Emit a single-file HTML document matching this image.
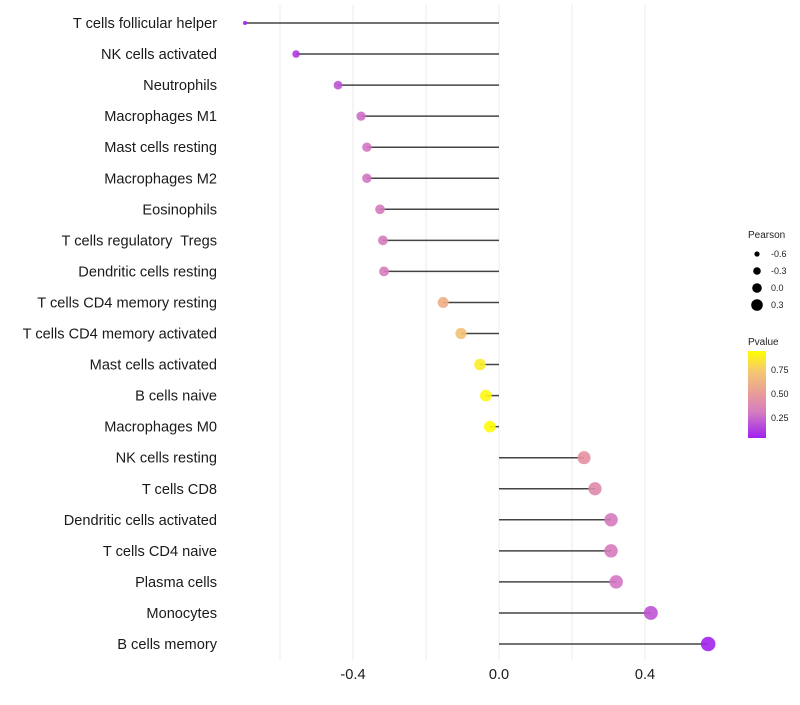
<!DOCTYPE html>
<html><head><meta charset="utf-8"><style>
body{margin:0;background:#fff;font-family:"Liberation Sans",sans-serif}
text{white-space:pre}
</style></head><body>
<svg id="c" width="800" height="700" xmlns="http://www.w3.org/2000/svg">
<defs><linearGradient id="pg" x1="0" y1="1" x2="0" y2="0">
<stop offset="0" stop-color="#a020f0"/><stop offset="0.3" stop-color="#d47ec0"/><stop offset="0.5" stop-color="#e89a9a"/><stop offset="0.77" stop-color="#f5c870"/><stop offset="1" stop-color="#ffff00"/></linearGradient></defs>
<g id="grid"></g><g id="marks"></g><g id="labels"></g>
<g font-size="9" fill="#222">
<text x="748" y="238" font-size="10">Pearson</text>
<circle cx="757" cy="254" r="2.6" fill="#000"/><text x="771" y="257">-0.6</text>
<circle cx="757" cy="271" r="3.8" fill="#000"/><text x="771" y="274">-0.3</text>
<circle cx="757" cy="288" r="4.8" fill="#000"/><text x="771" y="291">0.0</text>
<circle cx="757" cy="305" r="5.8" fill="#000"/><text x="771" y="308">0.3</text>
</g>
<g font-size="9" fill="#222">
<text x="748" y="345" font-size="10">Pvalue</text>
<rect x="748" y="351" width="18" height="87" fill="url(#pg)"/>
<text x="771" y="373">0.75</text><text x="771" y="397">0.50</text><text x="771" y="421">0.25</text>
</g>
</svg>
<script>
const cells=["T cells follicular helper","NK cells activated","Neutrophils","Macrophages M1","Mast cells resting","Macrophages M2","Eosinophils","T cells regulatory  Tregs","Dendritic cells resting","T cells CD4 memory resting","T cells CD4 memory activated","Mast cells activated","B cells naive","Macrophages M0","NK cells resting","T cells CD8","Dendritic cells activated","T cells CD4 naive","Plasma cells","Monocytes","B cells memory"];
const pearson=[-0.696,-0.556,-0.441,-0.378,-0.362,-0.362,-0.326,-0.318,-0.315,-0.153,-0.104,-0.052,-0.036,-0.025,0.233,0.263,0.307,0.307,0.321,0.416,0.573];
const pvalue=[0.04,0.12,0.2,0.28,0.3,0.3,0.33,0.33,0.34,0.62,0.72,0.88,0.92,0.94,0.47,0.42,0.33,0.33,0.3,0.2,0.05];
const ticks=[-0.4,0.0,0.4];
const grids=[-0.6,-0.4,-0.2,0,0.2,0.4];
const ns="http://www.w3.org/2000/svg";
const X=v=>499+v*365, Y=i=>23+i*31.05;
const vmin=Math.min(...pearson), vmax=Math.max(...pearson);
const R=v=>2+5.3*Math.pow((v-vmin)/(vmax-vmin),0.5);
const stops=[[0.04,[160,32,240]],[0.3,[210,118,195]],[0.5,[232,150,155]],[0.75,[245,200,112]],[0.95,[255,255,0]]];
function col(p){p=Math.max(0.04,Math.min(0.95,p));let i=0;while(i<stops.length-2&&p>stops[i+1][0])i++;
 const [p0,a]=stops[i],[p1,b]=stops[i+1];const f=(p-p0)/(p1-p0);
 return `rgb(${a.map((x,k)=>Math.round(x+(b[k]-x)*f)).join(",")})`;}
function mk(tag,at,par){const e=document.createElementNS(ns,tag);for(const k in at)e.setAttribute(k,at[k]);document.getElementById(par).appendChild(e);return e;}
grids.forEach(g=>{const l=mk("line",{x1:X(g),x2:X(g),y1:5,y2:660,stroke:"#ebebeb","stroke-width":1},"grid");

});
cells.forEach((c,i)=>{const y=Y(i);
 const l=mk("line",{x1:X(0),x2:X(pearson[i]),y1:y,y2:y,stroke:"#444","stroke-width":1.5},"marks");
 
 
 const d=mk("circle",{cx:X(pearson[i]),cy:y,r:R(pearson[i]),fill:col(pvalue[i]),"fill-opacity":0.9},"marks");
 
 
 const t=mk("text",{x:217,y:y+5,"text-anchor":"end","font-size":14.6,fill:"#1a1a1a"},"labels");t.textContent=c;
 
 });
ticks.forEach(v=>{const t=mk("text",{x:X(v),y:679,"text-anchor":"middle","font-size":14.6,fill:"#1a1a1a"},"labels");t.textContent=v.toFixed(1);
 
 });
</script>
</body></html>
